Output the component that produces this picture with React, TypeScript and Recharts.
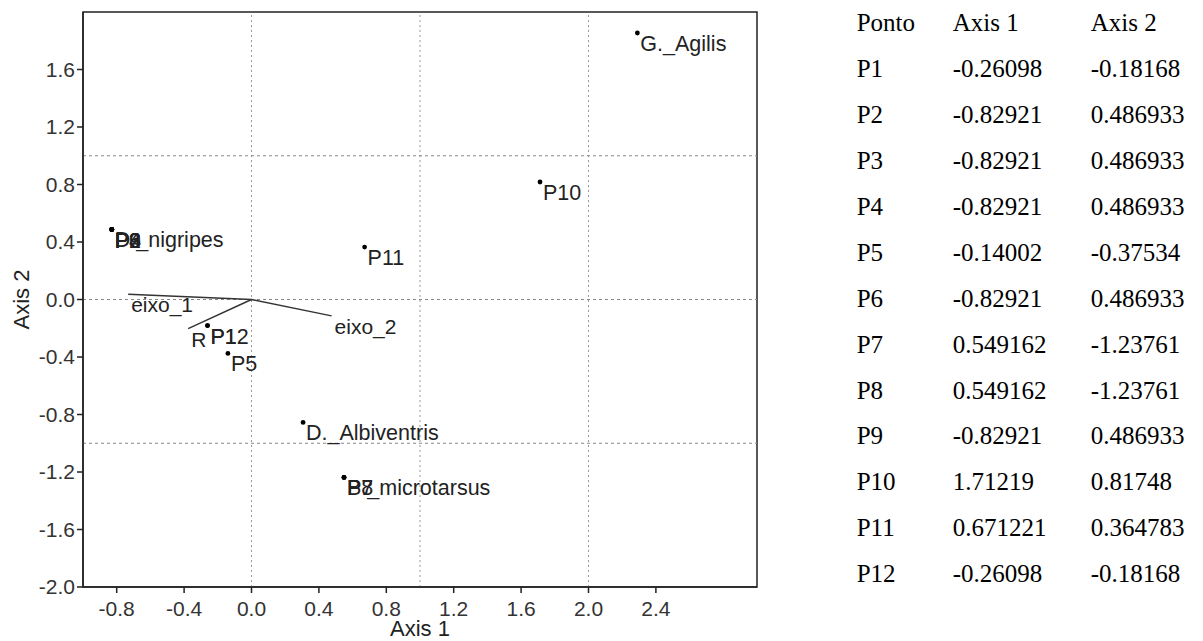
import React from "react";
import {
  ScatterChart,
  Scatter,
  XAxis,
  YAxis,
  ReferenceLine,
  ReferenceArea,
} from "recharts";

// pontos (sites) - same values as the table
const pontos = ["P1", "P2", "P3", "P4", "P5", "P6", "P7", "P8", "P9", "P10", "P11", "P12"];
const eixo1 = [-0.26098, -0.82921, -0.82921, -0.82921, -0.14002, -0.82921, 0.549162, 0.549162, -0.82921, 1.71219, 0.671221, -0.26098];
const eixo2 = [-0.18168, 0.486933, 0.486933, 0.486933, -0.37534, 0.486933, -1.23761, -1.23761, 0.486933, 0.81748, 0.364783, -0.18168];

// species scores
const especies = ["G._Agilis", "D._Albiventris", "D._nigripes", "B._microtarsus"];
const espEixo1 = [2.29, 0.306, -0.829, 0.549];
const espEixo2 = [1.854, -0.855, 0.487, -1.238];

// biplot vectors
const vetores = ["eixo_1", "eixo_2", "R"];
const vetEixo1 = [-0.732, 0.475, -0.376];
const vetEixo2 = [0.037, -0.114, -0.202];

const xTicks = [-0.8, -0.4, 0, 0.4, 0.8, 1.2, 1.6, 2.0, 2.4];
const yTicks = [-2.0, -1.6, -1.2, -0.8, -0.4, 0, 0.4, 0.8, 1.2, 1.6];
const xGuias = [0, 1, 2];
const yGuias = [-1, 0, 1];
const colunas = ["Ponto", "Axis 1", "Axis 2"];

const SANS = "'Liberation Sans', Arial, sans-serif";
const SERIF = "'Liberation Serif', 'Times New Roman', serif";
const INK = "#222";

const dadosPontos = pontos.map((nome, i) => ({ nome, x: eixo1[i], y: eixo2[i] }));
const dadosEspecies = especies.map((nome, i) => ({ nome, x: espEixo1[i], y: espEixo2[i] }));
const dadosVetores = vetores.map((nome, i) => ({ nome, x: vetEixo1[i], y: vetEixo2[i] }));

const PontoRotulado = (props: any) => {
  const { cx, cy, payload } = props;
  return (
    <g>
      <circle cx={cx} cy={cy} r={2.4} fill="#000" />
      <text x={cx + 3} y={cy + 18} fontSize={21.5} fontFamily={SANS} fill={INK}>
        {payload.nome}
      </text>
    </g>
  );
};

const RotuloVetor = (props: any) => {
  const { cx, cy, payload } = props;
  return (
    <text x={cx + 3} y={cy + 18} fontSize={21} fontFamily={SANS} fill={INK}>
      {payload.nome}
    </text>
  );
};

const colX = [856.7, 952.7, 1090.7];
const linhaY0 = 31.7;
const passo = 45.9;

export default function App() {
  const linhas = [colunas, ...pontos.map((p, i) => [p, String(eixo1[i]), String(eixo2[i])])];

  return (
    <div style={{ position: "absolute", left: 0, top: 0, width: 1203, height: 641, background: "#fff" }}>
      <ScatterChart width={800} height={641} margin={{ top: 12, right: 43, bottom: 0, left: 0 }}>
        <XAxis
          type="number"
          dataKey="x"
          domain={[-1, 3]}
          ticks={xTicks}
          allowDataOverflow
          tickFormatter={(v: number) => v.toFixed(1)}
          tickSize={6}
          tickMargin={8}
          height={54}
          stroke={INK}
          strokeWidth={1.5}
          tick={{ fill: "#333", fontSize: 21, fontFamily: SANS }}
          label={{ value: "Axis 1", position: "insideBottom", offset: 5, fill: INK, fontSize: 22, fontFamily: SANS }}
        />
        <YAxis
          type="number"
          dataKey="y"
          domain={[-2, 2]}
          ticks={yTicks}
          allowDataOverflow
          tickFormatter={(v: number) => v.toFixed(1)}
          tickSize={6}
          tickMargin={2}
          width={83}
          stroke={INK}
          strokeWidth={1.5}
          tick={{ fill: "#333", fontSize: 21, fontFamily: SANS }}
          label={{
            value: "Axis 2",
            angle: -90,
            position: "insideLeft",
            offset: 21,
            style: { textAnchor: "middle" },
            fill: INK,
            fontSize: 22,
            fontFamily: SANS,
          }}
        />
        {xGuias.map((g) => (
          <ReferenceLine key={`gx${g}`} x={g} stroke="#999" strokeDasharray="2 3" />
        ))}
        {yGuias.map((g) => (
          <ReferenceLine key={`gy${g}`} y={g} stroke="#888" strokeDasharray="3 3" />
        ))}
        <ReferenceArea x1={-1} x2={3} y1={-2} y2={2} fill="none" stroke={INK} strokeWidth={1.5} />
        {dadosVetores.map((v) => (
          <ReferenceLine
            key={v.nome}
            segment={[{ x: 0, y: 0 }, { x: v.x, y: v.y }]}
            stroke="#333"
            strokeWidth={1.4}
          />
        ))}
        <Scatter data={dadosVetores} shape={RotuloVetor} isAnimationActive={false} />
        <Scatter data={dadosEspecies} shape={PontoRotulado} isAnimationActive={false} />
        <Scatter data={dadosPontos} shape={PontoRotulado} isAnimationActive={false} />
      </ScatterChart>

      {linhas.map((linha, r) =>
        linha.map((txt, c) => (
          <div
            key={`${r}-${c}`}
            style={{
              position: "absolute",
              left: colX[c],
              top: linhaY0 + r * passo - 23.4,
              fontFamily: SERIF,
              fontSize: 25,
              lineHeight: "30px",
              color: "#000",
              whiteSpace: "nowrap",
            }}
          >
            {txt}
          </div>
        ))
      )}
    </div>
  );
}
